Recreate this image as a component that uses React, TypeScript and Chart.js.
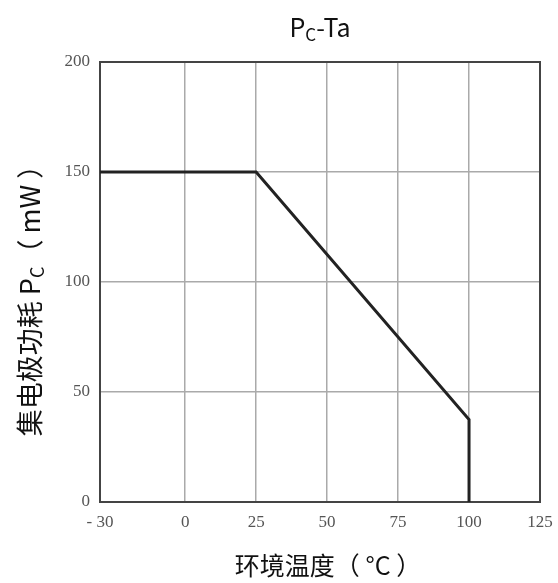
import React, { useEffect, useRef } from "react";
import { Chart, registerables } from "chart.js";

Chart.register(...registerables);

// ---- data ----
const temperatures = [-30, 25, 100, 100];
const powerMW = [150, 150, 37.5, 0];
const xTickValues = [-30, 0, 25, 50, 75, 100, 125];
const yTickValues = [0, 50, 100, 150, 200];

// ---- text ----
const titleRuns: [string, boolean][] = [["P", false], ["C", true], ["-Ta", false]];
const yTitleRuns: [string, boolean][] = [["集电极功耗 P", false], ["C", true], ["（ mW ）", false]];
const xTitle = "环境温度（ °C ）";

const SANS = '"Noto Sans CJK SC", "Noto Sans", sans-serif';
const SERIF = '"Liberation Serif", "Times New Roman", serif';

function drawRuns(ctx: CanvasRenderingContext2D, runs: [string, boolean][], size: number, subSize: number, subShift: number) {
  let total = 0;
  const widths: number[] = [];
  runs.forEach(([t, sub]) => {
    ctx.font = `${sub ? subSize : size}px ${SANS}`;
    const w = ctx.measureText(t).width;
    widths.push(w);
    total += w;
  });
  let x = -total / 2;
  runs.forEach(([t, sub], i) => {
    ctx.font = `${sub ? subSize : size}px ${SANS}`;
    ctx.fillText(t, x, sub ? subShift : 0);
    x += widths[i];
  });
}

const decorPlugin = {
  id: "decor",
  beforeDatasetsDraw(chart: any) {
    const { ctx, chartArea } = chart;
    ctx.save();
    ctx.strokeStyle = "#444";
    ctx.lineWidth = 2;
    ctx.strokeRect(chartArea.left, chartArea.top, chartArea.right - chartArea.left, chartArea.bottom - chartArea.top);
    ctx.restore();
  },
  afterDraw(chart: any) {
    const { ctx, chartArea } = chart;
    const cx = (chartArea.left + chartArea.right) / 2;
    ctx.save();
    ctx.fillStyle = "#111";
    ctx.textAlign = "left";
    ctx.textBaseline = "alphabetic";
    // title
    ctx.save();
    ctx.translate(cx, 37);
    drawRuns(ctx, titleRuns, 25, 17, 4);
    ctx.restore();
    // x title
    ctx.save();
    ctx.translate(cx + 8, 575);
    drawRuns(ctx, [[xTitle, false]], 25, 17, 4);
    ctx.restore();
    // y title
    ctx.save();
    ctx.translate(40, 294);
    ctx.rotate(-Math.PI / 2);
    drawRuns(ctx, yTitleRuns, 27, 18, 4);
    ctx.restore();
    ctx.restore();
  },
};

export default function App() {
  const ref = useRef<HTMLCanvasElement | null>(null);

  useEffect(() => {
    document.body.style.margin = "0";
    const canvas = ref.current;
    if (!canvas) return;
    const chart = new Chart(canvas, {
      type: "line",
      data: {
        datasets: [
          {
            data: temperatures.map((t, i) => ({ x: t, y: powerMW[i] })),
            borderColor: "#222",
            borderWidth: 3,
            pointRadius: 0,
            fill: false,
            tension: 0,
            clip: false as any,
          },
        ],
      },
      options: {
        responsive: false,
        animation: false,
        layout: { padding: { top: 62, right: 18, left: 0, bottom: 0 } },
        plugins: {
          legend: { display: false },
          tooltip: { enabled: false },
          title: { display: false },
        },
        scales: {
          x: {
            type: "linear",
            min: -30,
            max: 125,
            afterBuildTicks: (scale: any) => {
              scale.ticks = xTickValues.map((v) => ({ value: v }));
            },
            afterFit: (scale: any) => {
              scale.height = 81;
              scale.paddingLeft = 0;
              scale.paddingRight = 0;
            },
            border: { display: false },
            grid: { color: "#aaa", lineWidth: 1.5, drawTicks: false },
            ticks: {
              padding: 10,
              maxRotation: 0,
              autoSkip: false,
              color: "#555",
              font: { family: SERIF, size: 17 },
              callback: (v: any) => (Number(v) < 0 ? "- " + Math.abs(Number(v)) : String(v)),
            },
          },
          y: {
            type: "linear",
            min: 0,
            max: 200,
            afterBuildTicks: (scale: any) => {
              scale.ticks = yTickValues.map((v) => ({ value: v }));
            },
            afterFit: (scale: any) => {
              scale.width = 100;
            },
            border: { display: false },
            grid: { color: "#aaa", lineWidth: 1.5, drawTicks: false },
            ticks: {
              padding: 10,
              color: "#555",
              font: { family: SERIF, size: 17 },
            },
          },
        },
      },
      plugins: [decorPlugin],
    });
    return () => chart.destroy();
  }, []);

  return (
    <div style={{ width: 558, height: 583, background: "#fff" }}>
      <canvas ref={ref} width={558} height={583} style={{ display: "block" }} />
    </div>
  );
}
